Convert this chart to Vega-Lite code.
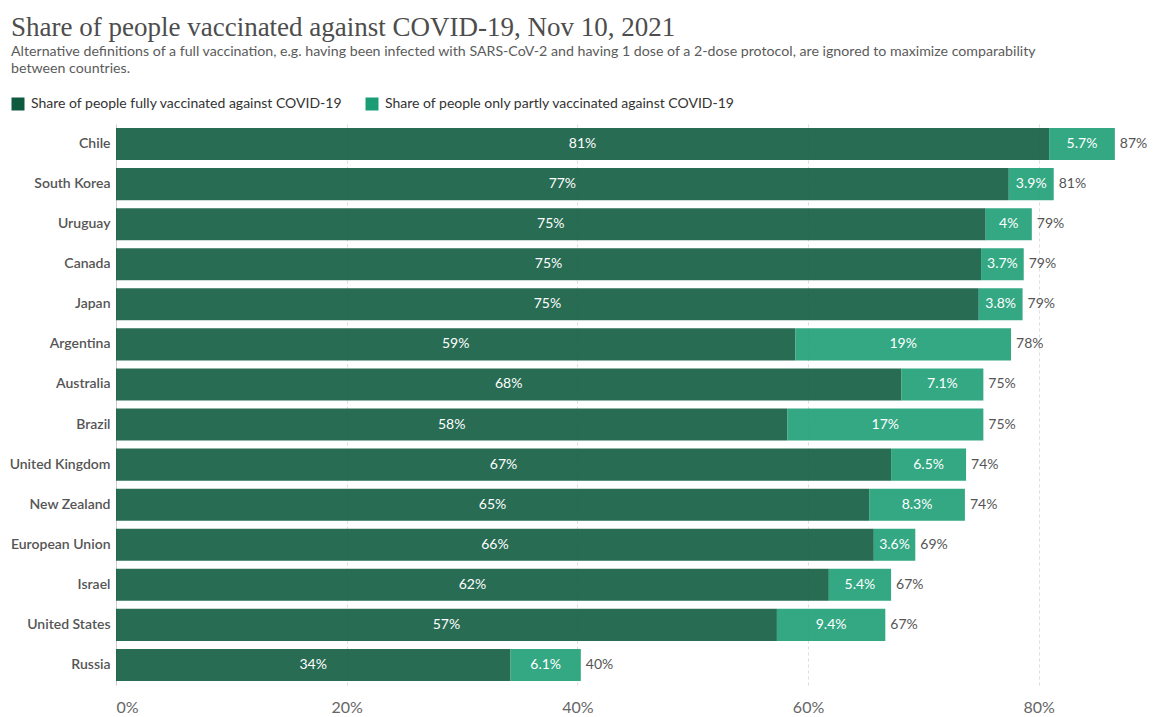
{
  "$schema": "https://vega.github.io/schema/vega-lite/v6.json",
  "autosize": "none",
  "width": 1015,
  "height": 561,
  "padding": {"left": 116, "top": 124, "right": 33, "bottom": 32},
  "background": "white",
  "title": {
    "text": "Share of people vaccinated against COVID-19, Nov 10, 2021",
    "subtitle": [
      "Alternative definitions of a full vaccination, e.g. having been infected with SARS-CoV-2 and having 1 dose of a 2-dose protocol, are ignored to maximize comparability",
      "between countries."
    ],
    "anchor": "start",
    "frame": "group",
    "dx": -105,
    "font": "Liberation Serif",
    "fontSize": 27,
    "fontWeight": "normal",
    "color": "#4d4d4d",
    "subtitleFont": "Lato",
    "subtitleFontSize": 14.2,
    "subtitleColor": "#5b5b5b",
    "subtitlePadding": 3,
    "subtitleLineHeight": 17,
    "offset": 20
  },
  "data": {
    "values": [
      {"country": "Chile", "type": "Share of people fully vaccinated against COVID-19", "value": 0.809},
      {"country": "Chile", "type": "Share of people only partly vaccinated against COVID-19", "value": 0.057},
      {"country": "South Korea", "type": "Share of people fully vaccinated against COVID-19", "value": 0.774},
      {"country": "South Korea", "type": "Share of people only partly vaccinated against COVID-19", "value": 0.039},
      {"country": "Uruguay", "type": "Share of people fully vaccinated against COVID-19", "value": 0.754},
      {"country": "Uruguay", "type": "Share of people only partly vaccinated against COVID-19", "value": 0.04},
      {"country": "Canada", "type": "Share of people fully vaccinated against COVID-19", "value": 0.75},
      {"country": "Canada", "type": "Share of people only partly vaccinated against COVID-19", "value": 0.037},
      {"country": "Japan", "type": "Share of people fully vaccinated against COVID-19", "value": 0.748},
      {"country": "Japan", "type": "Share of people only partly vaccinated against COVID-19", "value": 0.038},
      {"country": "Argentina", "type": "Share of people fully vaccinated against COVID-19", "value": 0.589},
      {"country": "Argentina", "type": "Share of people only partly vaccinated against COVID-19", "value": 0.187},
      {"country": "Australia", "type": "Share of people fully vaccinated against COVID-19", "value": 0.681},
      {"country": "Australia", "type": "Share of people only partly vaccinated against COVID-19", "value": 0.071},
      {"country": "Brazil", "type": "Share of people fully vaccinated against COVID-19", "value": 0.582},
      {"country": "Brazil", "type": "Share of people only partly vaccinated against COVID-19", "value": 0.17},
      {"country": "United Kingdom", "type": "Share of people fully vaccinated against COVID-19", "value": 0.672},
      {"country": "United Kingdom", "type": "Share of people only partly vaccinated against COVID-19", "value": 0.065},
      {"country": "New Zealand", "type": "Share of people fully vaccinated against COVID-19", "value": 0.653},
      {"country": "New Zealand", "type": "Share of people only partly vaccinated against COVID-19", "value": 0.083},
      {"country": "European Union", "type": "Share of people fully vaccinated against COVID-19", "value": 0.657},
      {"country": "European Union", "type": "Share of people only partly vaccinated against COVID-19", "value": 0.036},
      {"country": "Israel", "type": "Share of people fully vaccinated against COVID-19", "value": 0.618},
      {"country": "Israel", "type": "Share of people only partly vaccinated against COVID-19", "value": 0.054},
      {"country": "United States", "type": "Share of people fully vaccinated against COVID-19", "value": 0.573},
      {"country": "United States", "type": "Share of people only partly vaccinated against COVID-19", "value": 0.094},
      {"country": "Russia", "type": "Share of people fully vaccinated against COVID-19", "value": 0.342},
      {"country": "Russia", "type": "Share of people only partly vaccinated against COVID-19", "value": 0.061}
    ]
  },
  "encoding": {
    "y": {
      "field": "country",
      "type": "nominal",
      "sort": ["Chile", "South Korea", "Uruguay", "Canada", "Japan", "Argentina", "Australia", "Brazil", "United Kingdom", "New Zealand", "European Union", "Israel", "United States", "Russia"],
      "scale": {"paddingInner": 0.2, "paddingOuter": 0.1},
      "axis": {
        "title": null,
        "domain": false,
        "ticks": false,
        "labelFont": "Lato",
        "labelFontSize": 14,
        "labelFontWeight": 600,
        "labelColor": "#555555",
        "labelPadding": 6
      }
    }
  },
  "layer": [
    {
      "mark": {"type": "bar", "opacity": 0.89},
      "encoding": {
        "x": {
          "field": "value",
          "type": "quantitative",
          "stack": "zero",
          "scale": {"domain": [0, 0.88], "nice": false},
          "axis": {
            "title": null,
            "format": ".0%",
            "values": [0, 0.2, 0.4, 0.6, 0.8],
            "domain": false,
            "ticks": false,
            "labelFont": "Lato",
            "labelFontSize": 16,
            "labelColor": "#666666",
            "labelPadding": 14,
            "labelFlush": true,
            "grid": true,
            "gridColor": {"condition": {"test": "datum.value === 0", "value": "#cccccc"}, "value": "#dddddd"},
            "gridDash": {"condition": {"test": "datum.value === 0", "value": []}, "value": [3, 3]},
            "gridWidth": 1
          }
        },
        "color": {
          "field": "type",
          "type": "nominal",
          "scale": {
            "domain": ["Share of people fully vaccinated against COVID-19", "Share of people only partly vaccinated against COVID-19"],
            "range": ["#0e5a3e", "#1a9d74"]
          },
          "legend": {
            "title": null,
            "orient": "none",
            "direction": "horizontal",
            "legendX": -105,
            "legendY": -27,
            "symbolType": "square",
            "symbolSize": 169,
            "symbolOpacity": 1,
            "symbolStrokeWidth": 0,
            "labelFont": "Lato",
            "labelFontSize": 14,
            "labelColor": "#333333",
            "labelLimit": 400,
            "labelOffset": 6,
            "columnPadding": 22
          }
        },
        "order": {"field": "type", "sort": "ascending"}
      }
    },
    {
      "transform": [
        {"stack": "value", "groupby": ["country"], "sort": [{"field": "type", "order": "ascending"}], "as": ["v0", "v1"]},
        {"calculate": "(datum.v0 + datum.v1) / 2", "as": "mid"}
      ],
      "mark": {"type": "text", "color": "white", "font": "Lato", "fontSize": 14, "align": "center", "baseline": "middle"},
      "encoding": {
        "x": {"field": "mid", "type": "quantitative"},
        "text": {
          "condition": {"test": "datum.type === 'Share of people fully vaccinated against COVID-19'", "field": "value", "format": ".0%"},
          "field": "value",
          "format": ".2~p"
        }
      }
    },
    {
      "mark": {"type": "text", "color": "#555555", "font": "Lato", "fontSize": 14, "align": "left", "baseline": "middle", "dx": 5},
      "encoding": {
        "x": {"aggregate": "sum", "field": "value", "type": "quantitative"},
        "text": {"aggregate": "sum", "field": "value", "type": "quantitative", "format": ".0%"}
      }
    }
  ],
  "config": {
    "view": {"stroke": null}
  }
}
